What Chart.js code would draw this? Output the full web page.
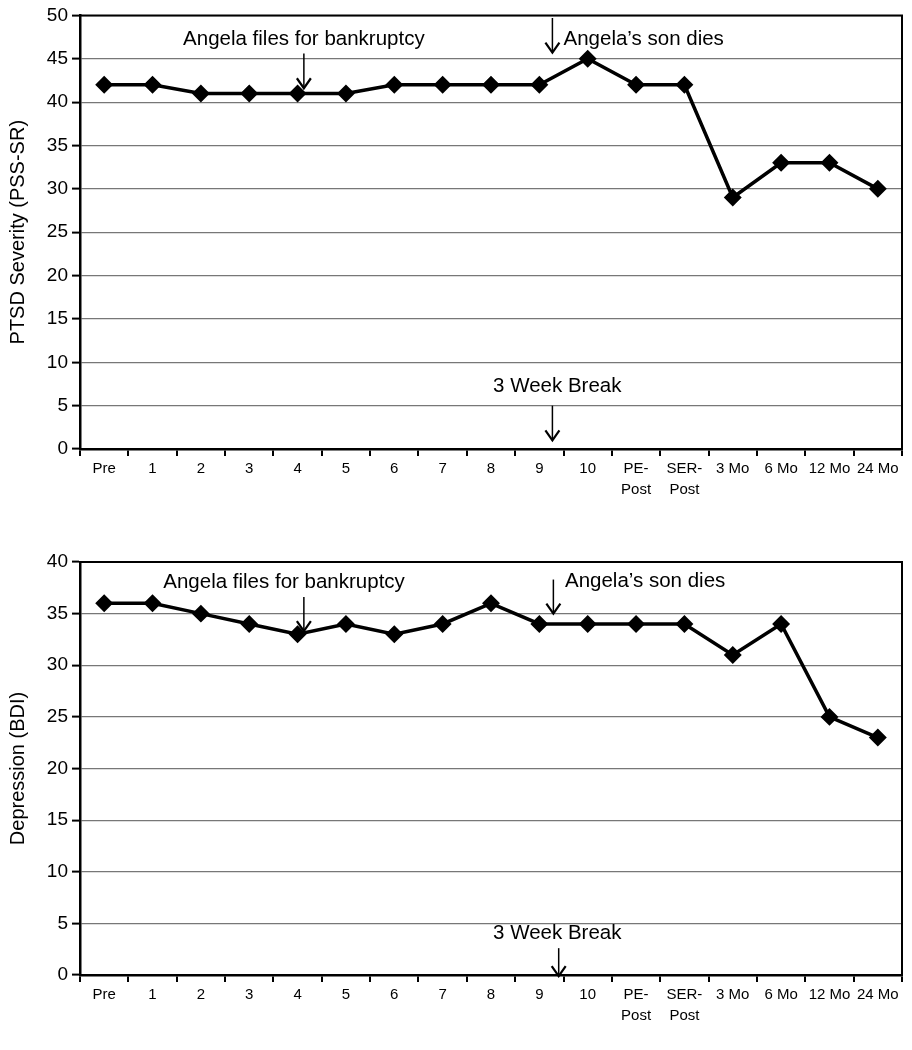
<!DOCTYPE html>
<html>
<head>
<meta charset="utf-8">
<script src="https://cdn.jsdelivr.net/npm/chart.js@4"></script>
<style>
  html, body { margin: 0; padding: 0; background: #fff; }
  .wrap { position: relative; width: 912px; height: 525px; }
</style>
</head>
<body>
<div class="wrap"><canvas id="c1"></canvas></div>
<div class="wrap"><canvas id="c2"></canvas></div>
<script>
// ---- data ----
const categories = ['Pre', '1', '2', '3', '4', '5', '6', '7', '8', '9', '10',
  ['PE-', 'Post'], ['SER-', 'Post'], '3 Mo', '6 Mo', '12 Mo', '24 Mo'];
const ptsdValues = [42, 42, 41, 41, 41, 41, 42, 42, 42, 42, 45, 42, 42, 29, 33, 33, 30];
const bdiValues  = [36, 36, 35, 34, 33, 34, 33, 34, 36, 34, 34, 34, 34, 31, 34, 25, 23];
const ptsdTicks = [0, 5, 10, 15, 20, 25, 30, 35, 40, 45, 50];
const bdiTicks  = [0, 5, 10, 15, 20, 25, 30, 35, 40];
const ptsdTitle = 'PTSD Severity (PSS-SR)';
const bdiTitle  = 'Depression (BDI)';
// annotation texts (positions in category index / value units)
const eventBankruptcy = 'Angela files for bankruptcy';
const eventSon = 'Angela\u2019s son dies';
const eventBreak = '3 Week Break';

const FONT = "'Liberation Sans', Arial, Helvetica, sans-serif";

const ptsdNotes = [
  { text: eventBankruptcy, tx: 4.13, ty: 46.6, align: 'center', ax: 4.13, ay1: 45.6, ay2: 41.6 },
  { text: eventSon, tx: 9.5, ty: 46.6, align: 'left', ax: 9.27, ay1: 49.7, ay2: 45.7 },
  { text: eventBreak, tx: 9.37, ty: 6.6, align: 'center', ax: 9.27, ay1: 5.0, ay2: 1.0 }
];
const bdiNotes = [
  { text: eventBankruptcy, tx: 3.72, ty: 37.5, align: 'center', ax: 4.13, ay1: 36.6, ay2: 33.3 },
  { text: eventSon, tx: 9.53, ty: 37.6, align: 'left', ax: 9.29, ay1: 38.3, ay2: 35.0 },
  { text: eventBreak, tx: 9.37, ty: 3.5, align: 'center', ax: 9.4, ay1: 2.6, ay2: -0.1 }
];

const notesPlugin = {
  id: 'notes',
  afterDatasetsDraw(chart, args, opts) {
    const { ctx, scales: { x, y }, chartArea: a } = chart;
    ctx.save();
    // box top & right
    ctx.strokeStyle = '#000';
    ctx.lineWidth = 2;
    ctx.beginPath();
    ctx.moveTo(a.left, a.top);
    ctx.lineTo(a.right, a.top);
    ctx.lineTo(a.right, a.bottom);
    ctx.stroke();
    ctx.fillStyle = '#000';
    ctx.font = '20.5px ' + FONT;
    ctx.textBaseline = 'alphabetic';
    for (const n of opts.notes) {
      ctx.textAlign = n.align;
      ctx.fillText(n.text, x.getPixelForValue(n.tx), y.getPixelForValue(n.ty));
      const ax = x.getPixelForValue(n.ax);
      const y1 = y.getPixelForValue(n.ay1), y2 = y.getPixelForValue(n.ay2);
      ctx.lineWidth = 1.5;
      ctx.beginPath();
      ctx.moveTo(ax, y1);
      ctx.lineTo(ax, y2);
      ctx.stroke();
      ctx.lineWidth = 2.2;
      ctx.beginPath();
      ctx.moveTo(ax - 7, y2 - 10);
      ctx.lineTo(ax, y2);
      ctx.lineTo(ax + 7, y2 - 10);
      ctx.stroke();
    }
    ctx.restore();
  }
};

function makeChart(id, values, ticks, title, notes, padTop, xHeight) {
  const maxV = ticks[ticks.length - 1];
  return new Chart(document.getElementById(id), {
    type: 'line',
    data: {
      labels: categories,
      datasets: [{
        data: values,
        borderColor: '#000',
        backgroundColor: '#000',
        borderWidth: 3.5,
        pointStyle: 'rectRot',
        pointRadius: 6.5,
        pointHoverRadius: 6.5,
        tension: 0
      }]
    },
    options: {
      responsive: true,
      maintainAspectRatio: false,
      animation: false,
      events: [],
      layout: { padding: { top: padTop, right: 6, left: 0, bottom: 0 } },
      plugins: { legend: { display: false }, tooltip: { enabled: false }, notes: { notes } },
      scales: {
        x: {
          type: 'category',
          offset: true,
          afterFit(s) { s.height = xHeight; },
          grid: { display: true, drawOnChartArea: false, offset: true, tickLength: 7, tickColor: '#000', lineWidth: 2 },
          border: { display: true, color: '#000', width: 2.5 },
          ticks: { color: '#000', font: { family: FONT, size: 15, lineHeight: 1.4 }, maxRotation: 0, autoSkip: false, padding: 2 },
        },
        y: {
          min: 0, max: maxV,
          afterFit(s) { s.width = 80; },
          afterBuildTicks(s) { s.ticks = ticks.map(v => ({ value: v })); },
          grid: { color: '#777', lineWidth: 1.2, tickLength: 8, tickColor: '#000', tickWidth: 2 },
          border: { display: true, color: '#000', width: 2.5 },
          ticks: { color: '#000', font: { family: FONT, size: 19 }, padding: 4 },
          title: { display: true, text: title, color: '#000', font: { family: FONT, size: 20 }, padding: { top: 6, bottom: 4 } }
        }
      }
    },
    plugins: [notesPlugin]
  });
}

makeChart('c1', ptsdValues, ptsdTicks, ptsdTitle, ptsdNotes, 14, 76);
makeChart('c2', bdiValues, bdiTicks, bdiTitle, bdiNotes, 37, 75);
</script>
</body>
</html>
